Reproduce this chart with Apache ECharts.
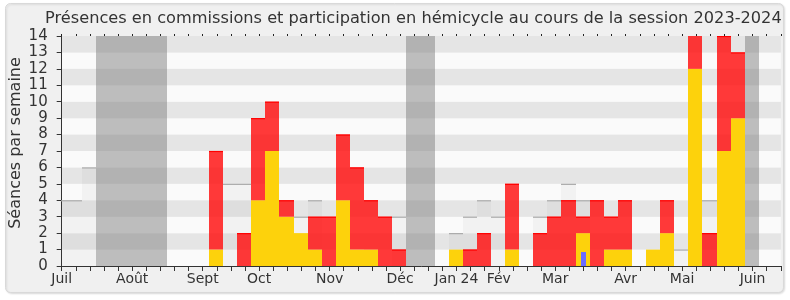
<!DOCTYPE html>
<html><head><meta charset="utf-8">
<script src="https://cdn.jsdelivr.net/npm/echarts@6/dist/echarts.min.js"></script>
<style>html,body{margin:0;padding:0;background:#fff;} #c{width:790px;height:300px;}</style>
</head><body><div id="c"></div>
<script>
// week index 0..51 (July 2023 -> June 2024)
const monthTicks = [0, 5, 10, 14, 19, 24, 28, 31, 35, 40, 44, 49];
const monthNames = ['Juil', 'Août', 'Sept', 'Oct', 'Nov', 'Déc', 'Jan 24', 'Fév', 'Mar', 'Avr', 'Mai', 'Juin'];
const vacationWeeks = [3, 4, 5, 6, 7, 25, 26, 49];
const medianValues = [4,4,6,null,null,null,null,null,null,null,null,null,5,5,null,null,null,3,4,null,null,null,null,null,3,null,null,null,2,3,4,3,null,null,3,4,5,4,null,null,null,null,null,null,1,null,4,null,null,null,null,null];
const commissionValues = [0,0,0,0,0,0,0,0,0,0,0,1,0,0,4,7,3,2,1,0,4,1,1,0,0,0,0,0,1,0,0,0,1,0,0,0,0,2,0,1,1,0,1,2,0,12,0,7,9,0,0,0];
const hemicycleValues = [0,0,0,0,0,0,0,0,0,0,0,6,0,2,5,3,1,0,2,3,4,5,3,3,1,0,0,0,0,1,2,0,4,0,2,3,4,1,4,2,3,0,0,2,0,3,2,7,4,0,0,0];
const questionValues = [0,0,0,0,0,0,0,0,0,0,0,0,0,0,0,0,0,0,0,0,0,0,0,0,0,0,0,0,0,0,0,0,0,0,0,0,0,0.85,0,0,0,0,0,0,0,0,0,0,0,0,0,0];
const yMax = 14;
const yTitle = 'Séances par semaine';

const FONT = 'DejaVu Sans';
const L = -0.56, R = 0.44;

function barRect(api, k, y0, y1) {
  const a = api.coord([k + L, y1]);
  const b = api.coord([k + R, y0]);
  const x0 = Math.round(a[0]), x1 = Math.round(b[0]);
  return { x: x0, y: a[1], width: x1 - x0, height: b[1] - a[1] };
}

const vacData = vacationWeeks.map(k => [k, 0, yMax]);
const medData = [], comData = [], hemData = [], qData = [];
medianValues.forEach((v, k) => { if (v != null) medData.push([k, 0, v]); });
commissionValues.forEach((v, k) => { if (v > 0) comData.push([k, 0, v]); });
hemicycleValues.forEach((v, k) => { if (v > 0) hemData.push([k, commissionValues[k], commissionValues[k] + v]); });
questionValues.forEach((v, k) => { if (v > 0) qData.push([k, 0, v]); });

function makeRender(fill, topColor, narrowPx) {
  return function (params, api) {
    const k = api.value(0), y0 = api.value(1), y1 = api.value(2);
    let shape = barRect(api, k, y0, y1);
    if (narrowPx) {
      const cx = shape.x + shape.width / 2;
      shape = { x: Math.round(cx - narrowPx / 2), y: shape.y, width: narrowPx, height: shape.height };
    }
    const children = [{ type: 'rect', shape: shape, style: { fill: fill } }];
    if (topColor) {
      children.push({ type: 'line', shape: { x1: shape.x, y1: shape.y + 0.5, x2: shape.x + shape.width, y2: shape.y + 0.5 }, style: { stroke: topColor, lineWidth: 1.2 } });
    }
    return { type: 'group', children: children };
  };
}

const chart = echarts.init(document.getElementById('c'), null, { renderer: 'canvas' });
chart.setOption({
  animation: false,
  backgroundColor: '#ffffff',
  graphic: [{
    type: 'rect', z: -10, silent: true,
    shape: { x: 5.5, y: 3.5, width: 778, height: 289, r: 5 },
    style: { fill: '#f0f0f0', stroke: '#d9d9d9', lineWidth: 1, shadowColor: 'rgba(0,0,0,0.12)', shadowBlur: 2, shadowOffsetX: 1, shadowOffsetY: 1 }
  }, {
    type: 'text', z: 10, silent: true,
    x: 16, y: 143, rotation: Math.PI / 2,
    style: { text: yTitle, fontFamily: FONT, fontSize: 16, fill: '#333', align: 'center', verticalAlign: 'middle' }
  }],
  title: {
    text: 'Présences en commissions et participation en hémicycle au cours de la session 2023-2024',
    left: 40, top: 6,
    textStyle: { fontFamily: FONT, fontSize: 16.2, fontWeight: 'normal', color: '#333' }
  },
  grid: { left: 61.7, right: 9.2, top: 36, bottom: 34, containLabel: false, outerBoundsMode: 'none' },
  xAxis: [{
    type: 'value', min: 0, max: 51, interval: 1,
    axisLine: { show: true, lineStyle: { color: '#333', width: 1 } },
    axisTick: { show: true, length: 5, lineStyle: { color: '#333' } },
    splitLine: { show: false },
    axisLabel: {
      margin: 6, fontFamily: FONT, fontSize: 14, color: '#333',
      formatter: v => { const i = monthTicks.indexOf(v); return i >= 0 ? monthNames[i] : ''; }
    }
  }, {
    type: 'value', min: 0, max: 51, interval: 1, position: 'top',
    axisLine: { show: false },
    axisTick: { show: true, length: 2, lineStyle: { color: '#222' } },
    splitLine: { show: false },
    axisLabel: { show: false }
  }],
  yAxis: {
    type: 'value', min: 0, max: yMax, interval: 1,
    axisLine: { show: true, lineStyle: { color: '#333', width: 1 } },
    axisTick: { show: true, length: 5, lineStyle: { color: '#333' } },
    splitLine: { show: false },
    splitArea: { show: true, areaStyle: { color: ['#fafafa', '#e5e5e5'] } },
    axisLabel: { margin: 14, fontFamily: FONT, fontSize: 15, color: '#333' }
  },
  series: [
    { type: 'custom', clip: true, data: vacData, renderItem: makeRender('rgba(128,128,128,0.5)', null, 0), encode: { x: 0, y: [1, 2] } },
    { type: 'custom', clip: true, data: medData, renderItem: makeRender('rgba(100,100,100,0.05)', '#aaaaaa', 0), encode: { x: 0, y: [1, 2] } },
    { type: 'custom', clip: true, data: comData, renderItem: makeRender('#fdd20c', null, 0), encode: { x: 0, y: [1, 2] } },
    { type: 'custom', clip: true, data: hemData, renderItem: makeRender('rgba(255,22,22,0.85)', '#ff0000', 0), encode: { x: 0, y: [1, 2] } },
    { type: 'custom', clip: true, data: qData, renderItem: makeRender('#6b6bff', null, 5), encode: { x: 0, y: [1, 2] } }
  ]
});
</script>
</body></html>
